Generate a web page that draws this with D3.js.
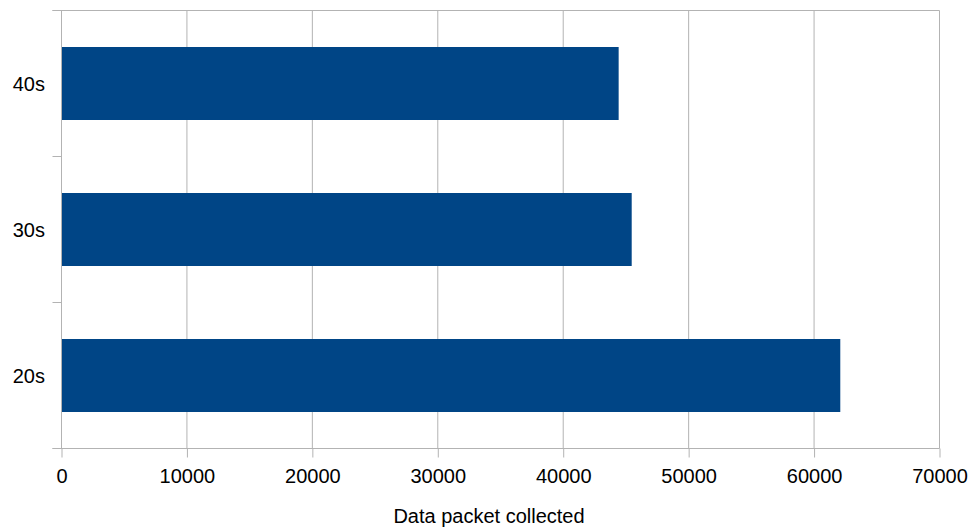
<!DOCTYPE html>
<html>
<head>
<meta charset="utf-8">
<script src="https://cdn.jsdelivr.net/npm/d3@7"></script>
<style>
  html, body { margin: 0; padding: 0; background: #ffffff; }
  svg { display: block; }
  text { font-family: "Liberation Sans", Arial, sans-serif; fill: #000; }
</style>
</head>
<body>
<svg id="chart" width="973" height="528"></svg>
<script>
const categories = ["20s", "30s", "40s"];
const values = [62090, 45460, 44420];
const xTicks = [0, 10000, 20000, 30000, 40000, 50000, 60000, 70000];
const xTitle = "Data packet collected";

const svg = d3.select("#chart");
const plotLeft = 61.5, plotRight = 939.5, plotTop = 10.5, plotBottom = 448.5;

const x = d3.scaleLinear().domain([0, 70000]).range([plotLeft, plotRight]);
const y = d3.scaleBand().domain(categories).range([plotBottom, plotTop]).padding(0);

const gridColor = "#b3b3b3";

// vertical grid lines
svg.append("g").selectAll("line").data(xTicks).join("line")
  .attr("x1", d => x(d)).attr("x2", d => x(d))
  .attr("y1", plotTop).attr("y2", plotBottom)
  .attr("stroke", gridColor).attr("stroke-width", 1);

// top border line (extends with left tick)
svg.append("line").attr("x1", plotLeft - 9).attr("x2", plotRight)
  .attr("y1", plotTop).attr("y2", plotTop).attr("stroke", gridColor);

// bars
const barH = y.bandwidth() * 0.5;
svg.append("g").selectAll("rect").data(categories).join("rect")
  .attr("x", x(0))
  .attr("y", (d) => y(d) + (y.bandwidth() - barH) / 2)
  .attr("width", (d, i) => x(values[i]) - x(0))
  .attr("height", barH)
  .attr("fill", "#004586");

// x axis
const xAxis = d3.axisBottom(x).tickValues(xTicks).tickFormat(d3.format("d")).tickSize(9).tickSizeOuter(0).tickPadding(8);
const gx = svg.append("g").attr("transform", `translate(0,${plotBottom})`).call(xAxis);
gx.select(".domain").attr("stroke", gridColor).attr("d", `M${plotLeft - 9},0H${plotRight}`);
gx.selectAll(".tick line").attr("stroke", gridColor);
gx.selectAll(".tick text").attr("font-size", 20).attr("font-family", "'Liberation Sans', Arial, sans-serif").attr("fill", "#000").attr("dy", "0.85em");

// y axis
const bounds = [plotBottom, ...categories.map(c => y(c))];
svg.append("g").selectAll("line").data(bounds).join("line")
  .attr("x1", plotLeft - 9).attr("x2", plotLeft)
  .attr("y1", d => d).attr("y2", d => d)
  .attr("stroke", gridColor);
svg.append("line").attr("x1", plotLeft).attr("x2", plotLeft).attr("y1", plotTop).attr("y2", plotBottom).attr("stroke", gridColor);

svg.append("g").selectAll("text").data(categories).join("text")
  .attr("x", 45)
  .attr("y", d => y(d) + y.bandwidth() / 2)
  .attr("dy", "0.35em")
  .attr("text-anchor", "end")
  .attr("font-size", 20)
  .text(d => d);

// x title
svg.append("text")
  .attr("x", 489)
  .attr("y", 523)
  .attr("text-anchor", "middle")
  .attr("font-size", 20)
  .text(xTitle);
</script>
</body>
</html>
